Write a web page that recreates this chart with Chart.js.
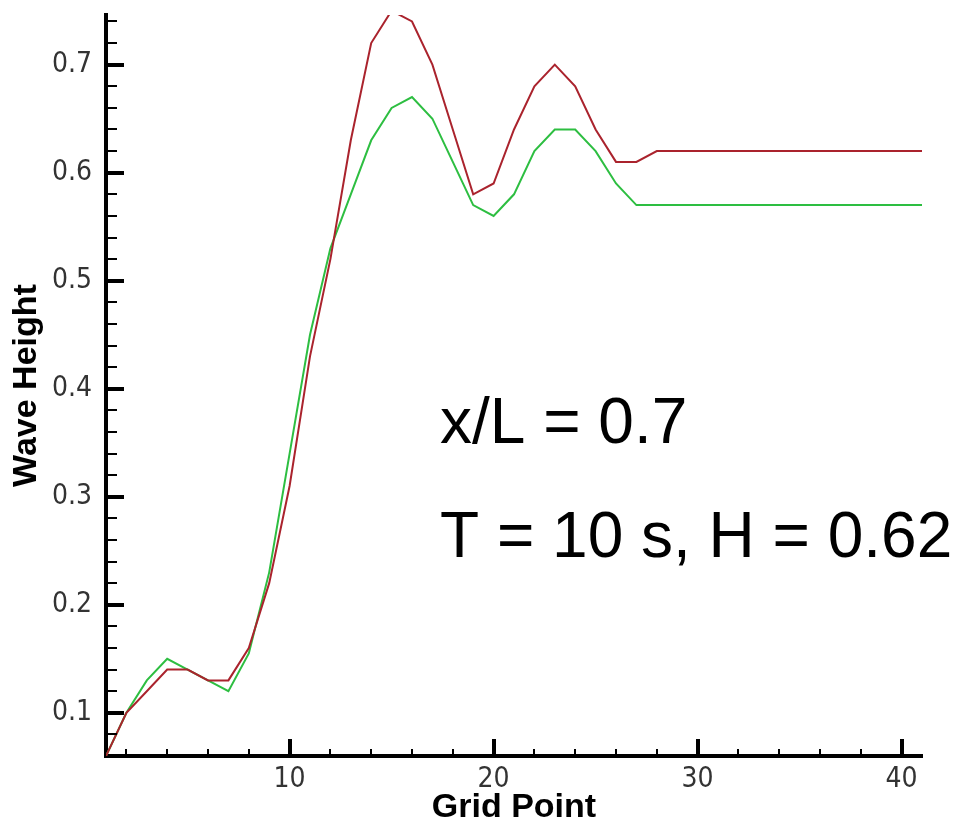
<!DOCTYPE html>
<html>
<head>
<meta charset="utf-8">
<script src="https://cdn.jsdelivr.net/npm/chart.js@4.4.1/dist/chart.umd.min.js"></script>
<style>
  html, body { margin: 0; padding: 0; background: #fff; }
</style>
</head>
<body>
<canvas id="myChart" width="956" height="825"></canvas>
<script>
const gridPoints = [1, 2, 3, 4, 5, 6, 7, 8, 9, 10, 11, 12, 13, 14, 15, 16, 17, 18, 19, 20,
    21, 22, 23, 24, 25, 26, 27, 28, 29, 30, 31, 32, 33, 34, 35, 36, 37, 38, 39, 40, 41];

const redHeight = [0.06, 0.10, 0.12, 0.14, 0.14, 0.13, 0.13, 0.16, 0.22, 0.31,
    0.43, 0.52, 0.63, 0.72, 0.75, 0.74, 0.70, 0.64, 0.58, 0.59,
    0.64, 0.68, 0.70, 0.68, 0.64, 0.61, 0.61, 0.62, 0.62, 0.62,
    0.62, 0.62, 0.62, 0.62, 0.62, 0.62, 0.62, 0.62, 0.62, 0.62, 0.62];

const greenHeight = [0.06, 0.10, 0.13, 0.15, 0.14, 0.13, 0.12, 0.155, 0.23, 0.34,
    0.45, 0.53, 0.58, 0.63, 0.66, 0.67, 0.65, 0.61, 0.57, 0.56,
    0.58, 0.62, 0.64, 0.64, 0.62, 0.59, 0.57, 0.57, 0.57, 0.57,
    0.57, 0.57, 0.57, 0.57, 0.57, 0.57, 0.57, 0.57, 0.57, 0.57, 0.57];

const xTicks = [10, 20, 30, 40];
const yTicks = [0.1, 0.2, 0.3, 0.4, 0.5, 0.6, 0.7];

const noteLines = ['x/L = 0.7', 'T = 10 s, H = 0.62'];

const toPoints = (vals) => vals.map((v, i) => ({x: gridPoints[i], y: v}));

const tickFont = {family: "'Liberation Sans Narrow', 'DejaVu Sans Condensed', 'Liberation Sans', sans-serif", size: 28};
const titleFont = {family: "'Liberation Sans', Arial, sans-serif", size: 34, weight: 'bold', lineHeight: 1.0};

// inward tick marks like the Tecplot axes, plus the text note
const axisDecor = {
    id: 'axisDecor',
    afterDraw(chart) {
        const ctx = chart.ctx;
        const xs = chart.scales.x, ys = chart.scales.y;
        const left = chart.chartArea.left, bottom = chart.chartArea.bottom;
        ctx.save();
        ctx.strokeStyle = '#000';
        ctx.lineCap = 'butt';
        for (let v = 0.08; v < ys.max; v += 0.02) {
            const major = Math.abs(v * 10 - Math.round(v * 10)) < 1e-6;
            const py = Math.round(ys.getPixelForValue(v));
            ctx.lineWidth = major ? 4 : 2;
            ctx.beginPath();
            ctx.moveTo(left, py);
            ctx.lineTo(left + (major ? 18 : 11), py);
            ctx.stroke();
        }
        for (let g = 2; g <= 40; g += 2) {
            const major = g % 10 === 0;
            const px = Math.round(xs.getPixelForValue(g));
            ctx.lineWidth = major ? 4 : 2;
            ctx.beginPath();
            ctx.moveTo(px, bottom);
            ctx.lineTo(px, bottom - (major ? 17 : 7));
            ctx.stroke();
        }
        ctx.fillStyle = '#000';
        ctx.font = "64px 'Liberation Sans', Arial, sans-serif";
        ctx.textAlign = 'left';
        ctx.textBaseline = 'alphabetic';
        ctx.fillText(noteLines[0], 440, 443);
        ctx.fillText(noteLines[1], 440, 557);
        ctx.restore();
    }
};

const config = {
    type: 'line',
    data: {
        datasets: [
            {
                label: 'red',
                data: toPoints(redHeight),
                borderColor: 'rgb(170, 35, 45)',
                borderWidth: 2,
                pointRadius: 0,
                tension: 0
            },
            {
                label: 'green',
                data: toPoints(greenHeight),
                borderColor: 'rgb(45, 190, 65)',
                borderWidth: 2,
                pointRadius: 0,
                tension: 0
            }
        ]
    },
    options: {
        responsive: false,
        devicePixelRatio: 1,
        animation: false,
        layout: {padding: {top: 15, right: 34, left: 0, bottom: 0}},
        plugins: {legend: {display: false}, tooltip: {enabled: false}},
        scales: {
            x: {
                type: 'linear',
                min: 1,
                max: 41,
                afterBuildTicks: (s) => { s.ticks = xTicks.map(v => ({value: v})); },
                afterFit: (s) => { s.height = 69; s.paddingLeft = 0; s.paddingRight = 0; },
                grid: {display: false, drawTicks: false},
                border: {display: true, color: '#000', width: 4},
                ticks: {color: '#333', font: tickFont, padding: 7, maxRotation: 0},
                title: {display: true, text: 'Grid Point', color: '#000', font: titleFont, padding: 0}
            },
            y: {
                type: 'linear',
                min: 0.06,
                max: 0.746,
                afterBuildTicks: (s) => { s.ticks = yTicks.map(v => ({value: v})); },
                afterFit: (s) => { s.width = 106; s.paddingTop = 0; s.paddingBottom = 0; },
                grid: {display: false, drawTicks: false},
                border: {display: true, color: '#000', width: 4},
                ticks: {color: '#333', font: tickFont, padding: 14, callback: (v) => v.toFixed(1)},
                title: {display: true, text: 'Wave Height', color: '#000', font: titleFont, padding: {top: 10, bottom: 0}}
            }
        }
    },
    plugins: [axisDecor]
};

const myChart = new Chart(document.getElementById('myChart'), config);
</script>
</body>
</html>
